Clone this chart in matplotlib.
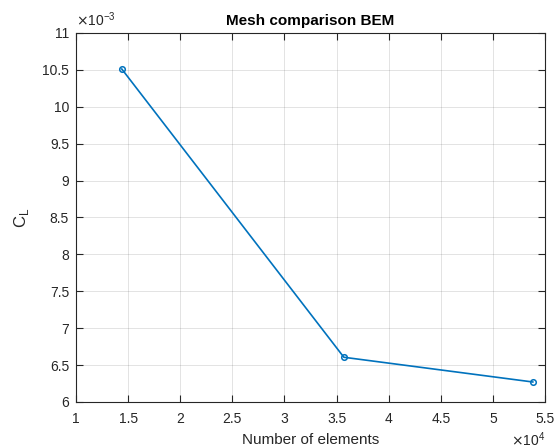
import matplotlib.pyplot as plt
from matplotlib.ticker import FuncFormatter

plt.rcParams['font.family'] = ['Liberation Sans', 'DejaVu Sans']

elements = [14390, 35700, 53830]
cl = [10.512e-3, 6.606e-3, 6.271e-3]

xs = [e / 1e4 for e in elements]
ys = [c / 1e-3 for c in cl]

axcol = '#262626'
fig = plt.figure(figsize=(5.54, 4.48), dpi=100)
ax = fig.add_axes([0.1372, 0.1027, 0.8466, 0.8237])

ax.plot(xs, ys, color='#0072BD', lw=1.2, marker='o', ms=4,
        mfc='none', mew=1.1)

ax.set_xlim(1, 5.5)
ax.set_ylim(6, 11)
ax.set_xticks([1, 1.5, 2, 2.5, 3, 3.5, 4, 4.5, 5, 5.5])
ax.set_yticks([6, 6.5, 7, 7.5, 8, 8.5, 9, 9.5, 10, 10.5, 11])
fmt = FuncFormatter(lambda v, p: '%g' % v)
ax.xaxis.set_major_formatter(fmt)
ax.yaxis.set_major_formatter(fmt)

ax.grid(True, color='#262626', alpha=0.15, lw=0.6)
ax.tick_params(direction='in', length=5, width=0.8, colors=axcol,
               labelsize=10, top=True, right=True, labelcolor=axcol)
ax.tick_params(axis='x', pad=7)
ax.tick_params(axis='y', pad=5)
for s in ax.spines.values():
    s.set_color(axcol)
    s.set_linewidth(0.8)

ax.set_title('Mesh comparison BEM', fontsize=11, fontweight='bold',
             color='black', pad=6)
ax.set_xlabel('Number of elements', fontsize=11, color=axcol, labelpad=5)
ax.set_ylabel(r'C$_\mathregular{L}$', fontsize=12, color=axcol, labelpad=8)

ax.text(0, 1.01, r'$\times\mathregular{10^{-3}}$', transform=ax.transAxes,
        fontsize=10, color=axcol, ha='left', va='bottom')
ax.text(1, -0.119, r'$\times\mathregular{10^{4}}$', transform=ax.transAxes,
        fontsize=10, color=axcol, ha='right', va='baseline')

fig.savefig('out.png', dpi=100)
